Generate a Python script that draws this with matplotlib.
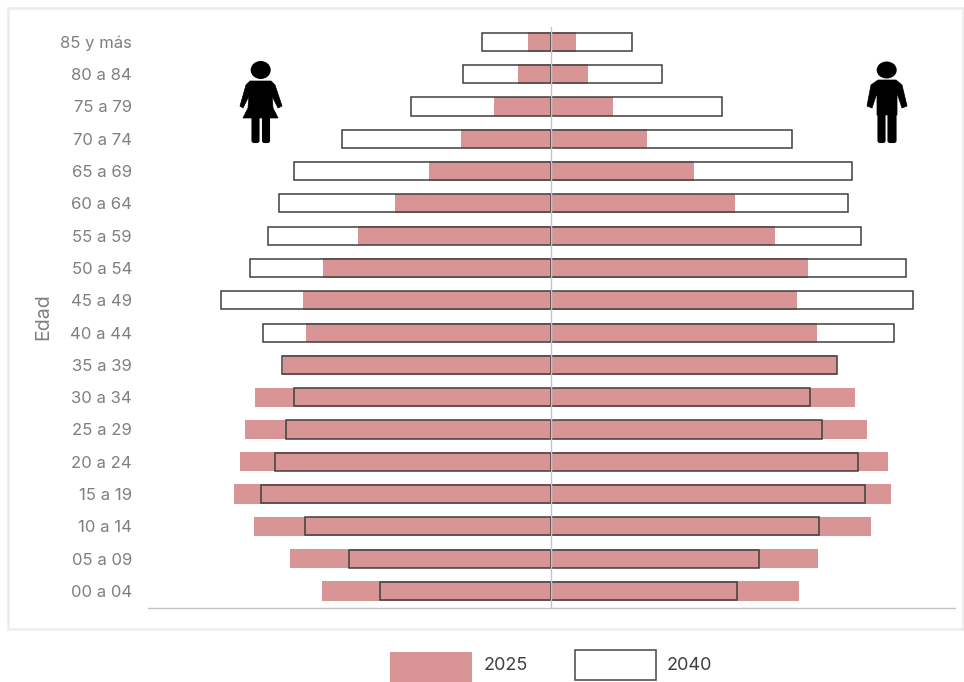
import matplotlib
matplotlib.use('Agg')
import matplotlib.pyplot as plt
from matplotlib.patches import Rectangle, Ellipse, Polygon, FancyBboxPatch

plt.rcParams['font.family'] = ['Inter', 'DejaVu Sans']

edades = ['00 a 04', '05 a 09', '10 a 14', '15 a 19', '20 a 24', '25 a 29',
          '30 a 34', '35 a 39', '40 a 44', '45 a 49', '50 a 54', '55 a 59',
          '60 a 64', '65 a 69', '70 a 74', '75 a 79', '80 a 84', '85 y más']

# valores (sin escala visible)
mujeres_2025 = [229, 261, 297, 317, 311, 306, 296, 268, 245, 248, 228, 193, 156, 122, 90, 57, 33, 23]
hombres_2025 = [248, 267, 320, 340, 337, 316, 304, 286, 266, 246, 257, 224, 184, 143, 96, 62, 37, 25]
mujeres_2040 = [171, 202, 246, 290, 276, 265, 257, 269, 288, 330, 301, 283, 272, 257, 209, 140, 88, 69]
hombres_2040 = [186, 208, 268, 314, 307, 271, 259, 286, 343, 362, 355, 310, 297, 301, 241, 171, 111, 81]

ROSA = '#d99595'
W, H = 964, 682

fig = plt.figure(figsize=(W / 100, H / 100), dpi=100)

# capa en pixeles para marco, iconos y leyenda
fondo = fig.add_axes([0, 0, 1, 1])
fondo.set_xlim(0, W)
fondo.set_ylim(H, 0)
fondo.axis('off')
fondo.add_patch(Rectangle((8, 8), 955, 621, fc='white', ec='#ececec', lw=1.8))

ax = fig.add_axes([148 / W, (H - 608) / H, (955 - 148) / W, (608 - 27) / H])
ax.patch.set_alpha(0)
y = list(range(len(edades)))
ax.barh(y, [-v for v in mujeres_2025], height=0.6, color=ROSA, zorder=2)
ax.barh(y, hombres_2025, height=0.6, color=ROSA, zorder=2)
ax.barh(y, [-v for v in mujeres_2040], height=0.56, facecolor='none', edgecolor='#3f3f3f', lw=1.1, zorder=3)
ax.barh(y, hombres_2040, height=0.56, facecolor='none', edgecolor='#3f3f3f', lw=1.1, zorder=3)
ax.axvline(0, color='#c4c4c4', lw=1, zorder=4)

ax.set_xlim(-403, 404)
ax.set_ylim(-0.526, 17.46)
ax.set_xticks([])
ax.set_yticks(y)
ax.set_yticklabels(edades, fontsize=12, color='#7f7f7f')
ax.tick_params(axis='y', length=0, pad=11.5)
for s in ['top', 'left', 'right']:
    ax.spines[s].set_visible(False)
ax.spines['bottom'].set_color('#c4c4c4')
ax.spines['bottom'].set_linewidth(1)
fondo.text(43, 317, 'Edad', rotation=90, ha='center', va='center', fontsize=14, color='#7f7f7f')

# icono mujer
fondo.add_patch(Ellipse((260.7, 70), 20, 18, fc='black'))
fondo.add_patch(Polygon([(250, 81), (271, 81), (275, 85), (282, 106), (278, 108), (272, 96),
                         (273, 108), (278, 118), (243, 118), (248, 108), (249, 96), (243, 108),
                         (240, 106), (246, 85)], closed=True, fc='black', ec='black', lw=0.5, joinstyle='round'))
fondo.add_patch(FancyBboxPatch((252, 117), 7, 25.5, boxstyle='round,pad=0,rounding_size=2', fc='black', ec='black', lw=0.8))
fondo.add_patch(FancyBboxPatch((262.5, 117), 7, 25.5, boxstyle='round,pad=0,rounding_size=2', fc='black', ec='black', lw=0.8))

# icono hombre
fondo.add_patch(Ellipse((886.7, 70), 20, 17, fc='black'))
fondo.add_patch(Polygon([(878, 80), (896, 80), (902, 85), (907, 106), (902, 108), (897, 93),
                         (897, 115), (877, 115), (877, 93), (872, 108), (867, 106), (871, 85)],
                        closed=True, fc='black', ec='black', lw=0.5, joinstyle='round'))
fondo.add_patch(FancyBboxPatch((878, 112), 7, 30.5, boxstyle='round,pad=0,rounding_size=2', fc='black', ec='black', lw=0.8))
fondo.add_patch(FancyBboxPatch((888, 112), 8, 30.5, boxstyle='round,pad=0,rounding_size=2', fc='black', ec='black', lw=0.8))

# leyenda
fondo.add_patch(Rectangle((390, 652), 82, 30, fc=ROSA, ec='none'))
fondo.text(484, 666, '2025', ha='left', va='center', fontsize=13, color='#404040')
fondo.add_patch(Rectangle((575, 650), 81, 30, fc='white', ec='#555555', lw=1.2))
fondo.text(667, 666, '2040', ha='left', va='center', fontsize=13, color='#404040')

fig.savefig('out.png', dpi=100)
